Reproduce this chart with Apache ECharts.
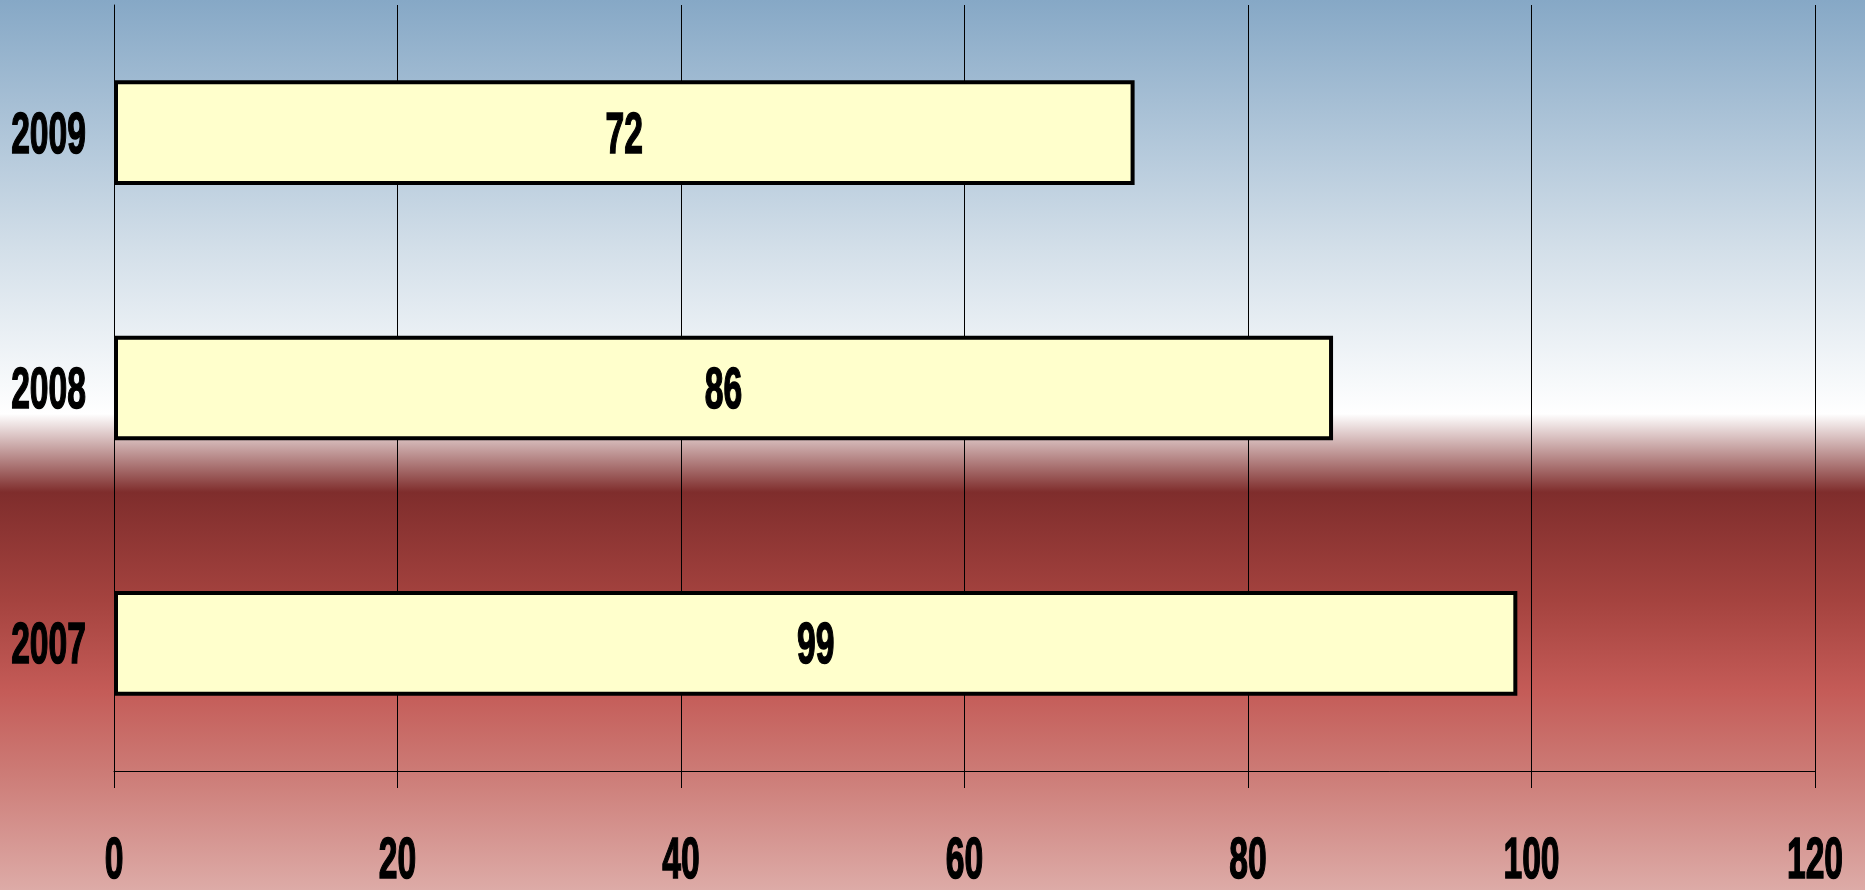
<!DOCTYPE html>
<html>
<head>
<meta charset="utf-8">
<script src="https://cdn.jsdelivr.net/npm/echarts@6/dist/echarts.min.js"></script>
<style>html,body{margin:0;padding:0;}#c{width:1865px;height:890px;}</style>
</head>
<body>
<div id="c"></div>
<script>
var categories = ['2007', '2008', '2009'];
var values = [99, 86, 72];
var tickLabels = [0, 20, 40, 60, 80, 100, 120];

var FONT = 'bold 58px "Liberation Sans", Arial, sans-serif';
var SX = 0.58;
var DY = 4;

function txtStyle(text, align) {
  return {text: text, fill: '#000', stroke: '#000', lineWidth: 1.6, font: FONT, align: align, verticalAlign: 'middle'};
}

var chart = echarts.init(document.getElementById('c'));
chart.setOption({
  animation: false,
  backgroundColor: new echarts.graphic.LinearGradient(0, 0, 0, 1, [
    {offset: 0, color: '#86a8c6'},
    {offset: 0.28, color: '#d3dfe9'},
    {offset: 0.465, color: '#ffffff'},
    {offset: 0.553, color: '#7f2d2c'},
    {offset: 0.675, color: '#a5433f'},
    {offset: 0.775, color: '#c45b57'},
    {offset: 0.865, color: '#cc7a75'},
    {offset: 1, color: '#ddaba7'}
  ]),
  grid: {left: 114, right: 50, top: 5, bottom: 119, containLabel: false},
  xAxis: {
    type: 'value', min: 0, max: 120, interval: 20,
    axisLine: {show: true, lineStyle: {color: '#000', width: 1}},
    axisTick: {show: true, length: 17, lineStyle: {color: '#000', width: 1}},
    axisLabel: {show: false},
    splitLine: {show: true, lineStyle: {color: '#000', width: 1}}
  },
  yAxis: {
    type: 'category', data: categories,
    axisLine: {show: true, lineStyle: {color: '#000', width: 1}},
    axisTick: {show: false},
    axisLabel: {show: false},
    splitLine: {show: false}
  },
  series: [
    {
      type: 'bar', data: values, barWidth: '41%', z: 3,
      itemStyle: {color: '#ffffcc', borderColor: '#000', borderWidth: 4}
    },
    {
      type: 'custom', z: 10, clip: false, silent: true,
      data: values.map(function (v, i) { return [v, i]; }),
      renderItem: function (params, api) {
        var p = api.coord([api.value(0) / 2, api.value(1)]);
        return {type: 'text', x: p[0], y: p[1] + DY, scaleX: SX,
          style: txtStyle(String(api.value(0)), 'center')};
      }
    },
    {
      type: 'custom', z: 10, clip: false, silent: true,
      data: categories.map(function (c, i) { return [0, i]; }),
      renderItem: function (params, api) {
        var p = api.coord([0, api.value(1)]);
        return {type: 'text', x: params.coordSys.x - 28, y: p[1] + DY, scaleX: SX,
          style: txtStyle(categories[params.dataIndex], 'right')};
      }
    },
    {
      type: 'custom', z: 10, clip: false, silent: true,
      data: tickLabels.map(function (t) { return [t, 0]; }),
      renderItem: function (params, api) {
        var p = api.coord([api.value(0), 0]);
        var cs = params.coordSys;
        return {type: 'text', x: p[0], y: cs.y + cs.height + 87 + DY, scaleX: SX,
          style: txtStyle(String(tickLabels[params.dataIndex]), 'center')};
      }
    }
  ]
});
</script>
</body>
</html>
